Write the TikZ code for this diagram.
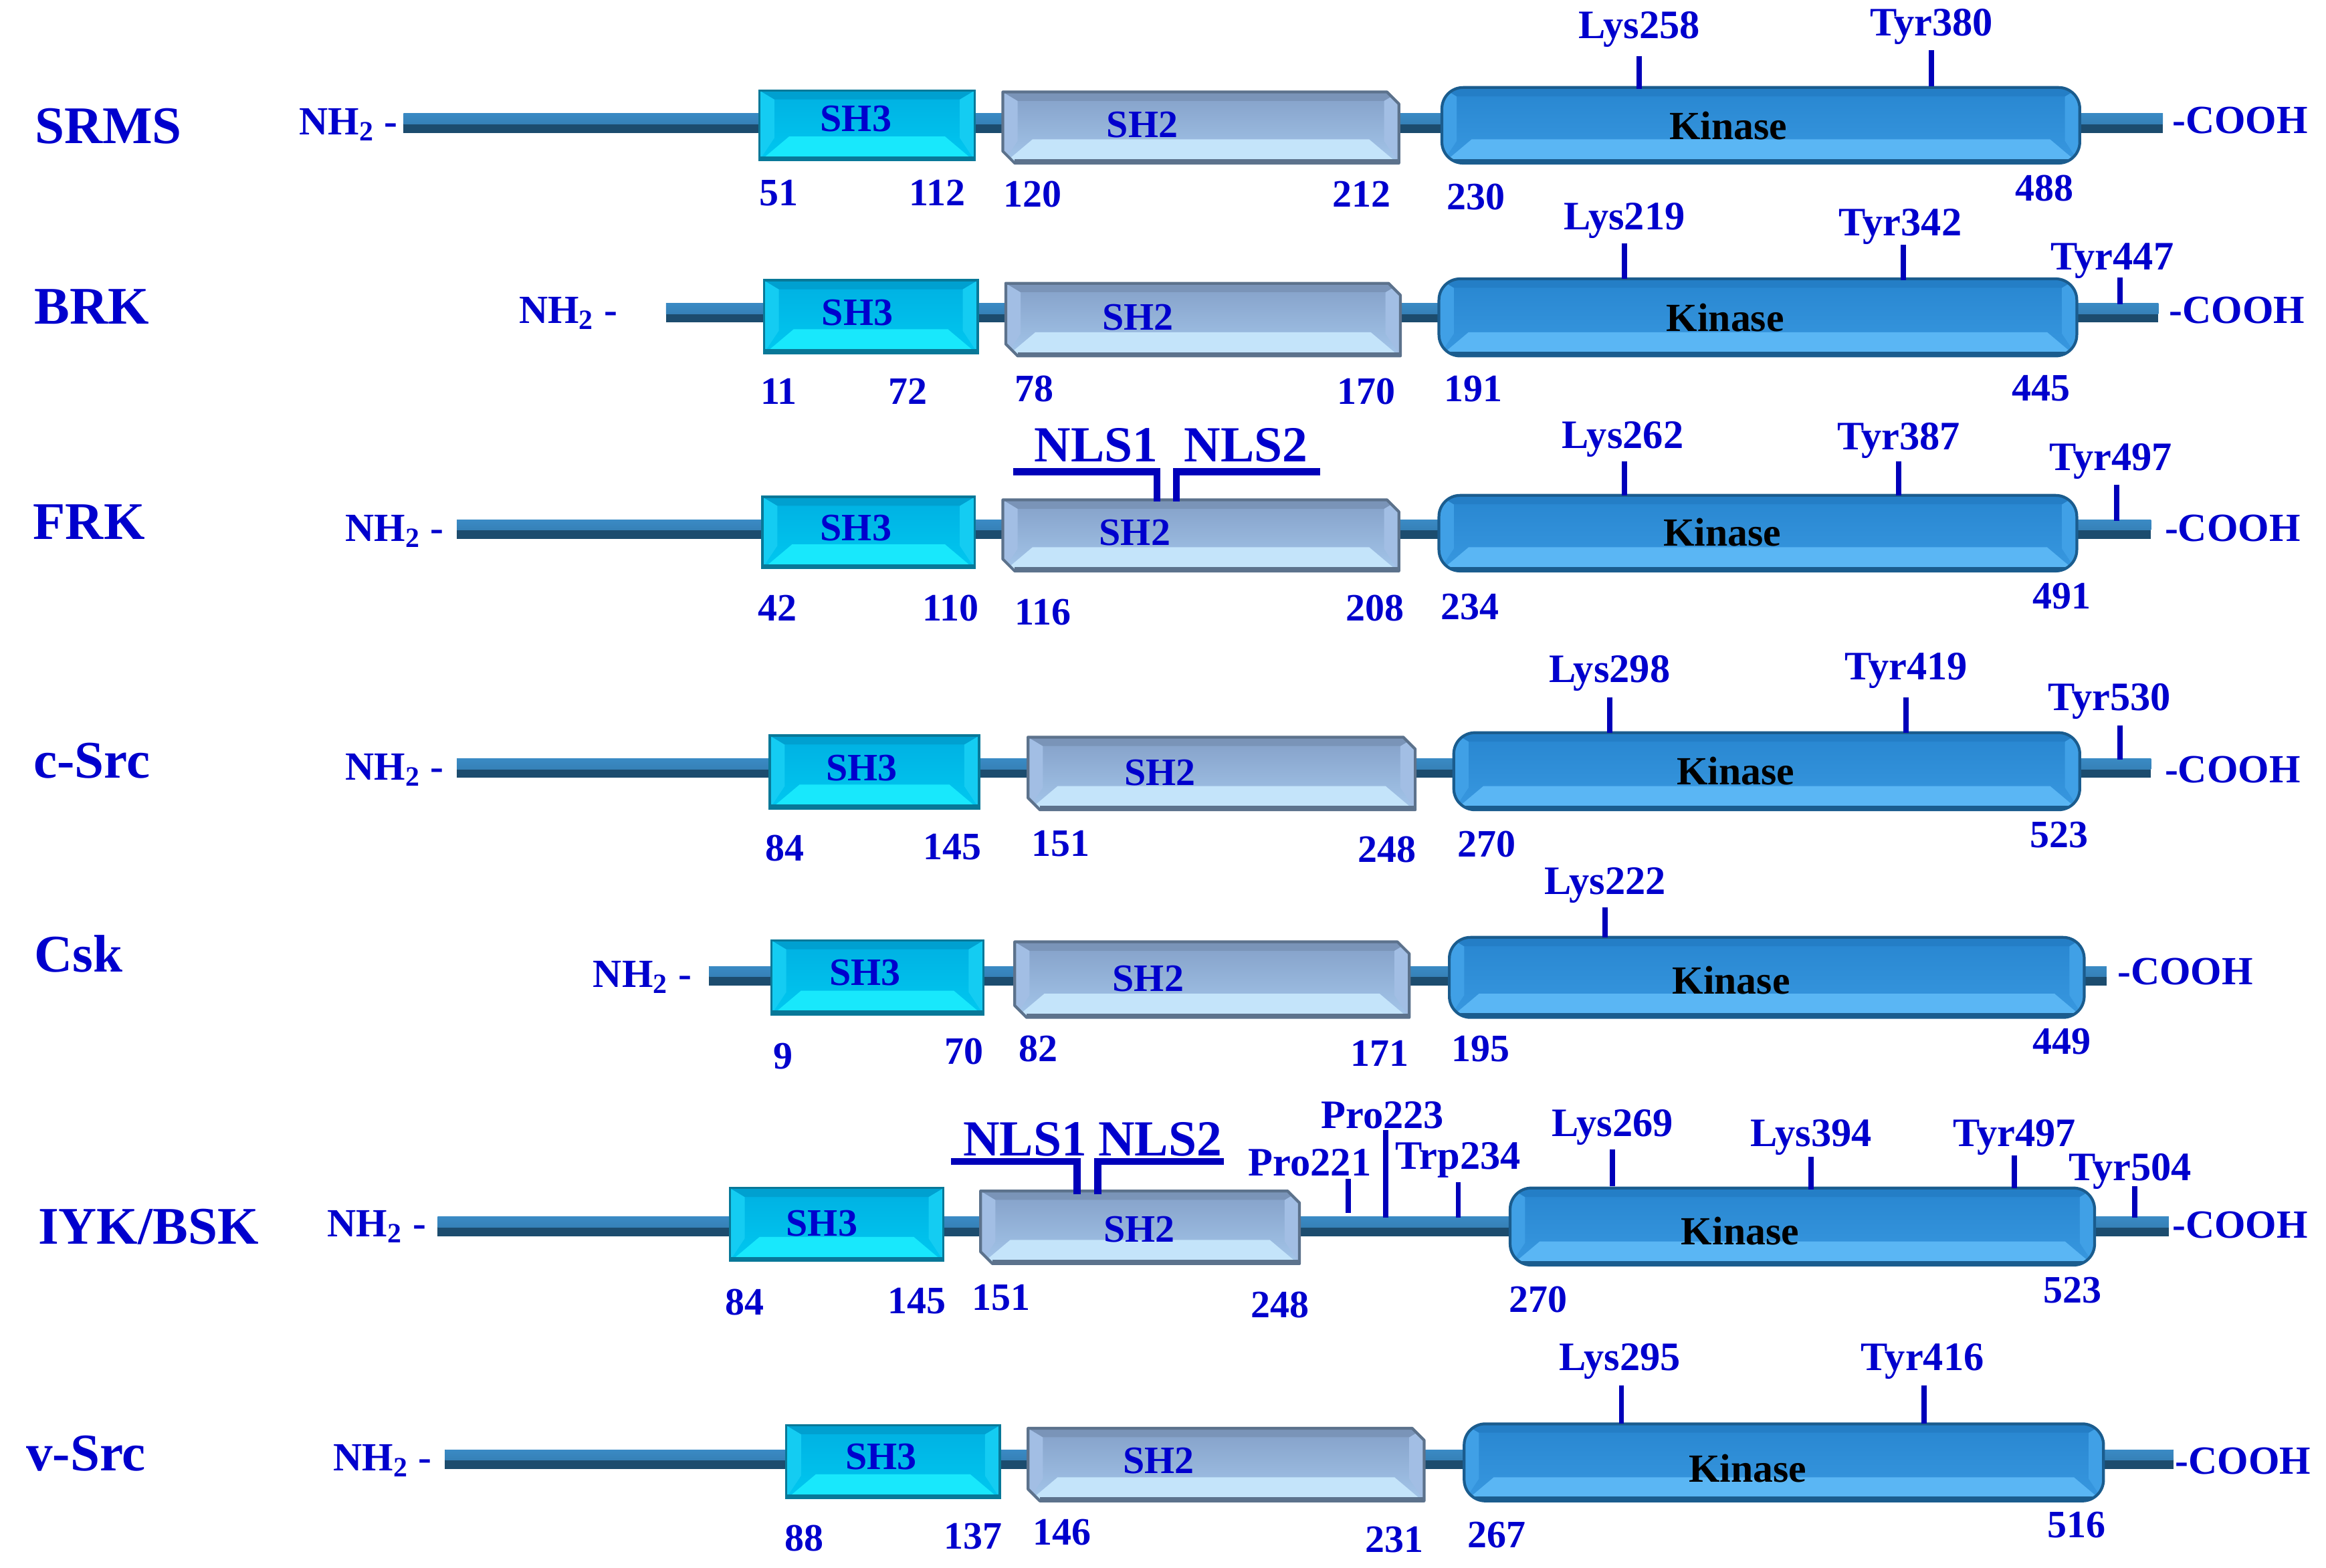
\documentclass[tikz,border=0pt]{standalone}
\usepackage{fontspec}
\setmainfont{Liberation Serif}
\usetikzlibrary{calc}
\definecolor{lblue}{RGB}{0,0,205}
\definecolor{tickc}{RGB}{0,0,185}
\definecolor{bbtop}{RGB}{58,138,196}
\definecolor{bbbot}{RGB}{28,76,110}
\definecolor{shAmidA}{RGB}{0,176,226}
\definecolor{shAmidB}{RGB}{0,200,240}
\definecolor{shAtop}{RGB}{0,160,208}
\definecolor{shAbot}{RGB}{24,232,252}
\definecolor{shAside}{RGB}{20,204,242}
\definecolor{shAedge}{RGB}{8,120,152}
\definecolor{shBmidA}{RGB}{132,160,200}
\definecolor{shBmidB}{RGB}{164,198,234}
\definecolor{shBtop}{RGB}{122,148,184}
\definecolor{shBbot}{RGB}{196,228,250}
\definecolor{shBside}{RGB}{162,190,228}
\definecolor{shBedge}{RGB}{92,114,140}
\definecolor{kmidA}{RGB}{40,134,208}
\definecolor{kmidB}{RGB}{56,152,224}
\definecolor{ktop}{RGB}{36,126,198}
\definecolor{kbot}{RGB}{90,182,244}
\definecolor{kside}{RGB}{64,160,230}
\definecolor{kedge}{RGB}{26,92,142}
\tikzset{
  pname/.style={font=\fontsize{22.5}{26}\selectfont\bfseries, text=lblue},
  num/.style={font=\fontsize{16.5}{19}\selectfont\bfseries, text=lblue},
  res/.style={font=\fontsize{17.2}{20}\selectfont\bfseries, text=lblue},
  dlab/.style={font=\fontsize{16.5}{19}\selectfont\bfseries, text=lblue},
  klab/.style={font=\fontsize{17}{20}\selectfont\bfseries, text=black},
  term/.style={font=\fontsize{17}{20}\selectfont\bfseries, text=lblue},
  nls/.style={font=\fontsize{21.5}{25}\selectfont\bfseries, text=lblue},
  tickl/.style={draw=tickc, line width=2.2pt},
  nlsl/.style={draw=tickc, line width=3pt},
}
% backbone: y, x1, x2
\newcommand\bbline[3]{%
  \fill[bbbot] (#2,#1-6.5) rectangle (#3,#1+6.5);
  \shade[top color=bbtop, bottom color=bbtop!85!bbbot] (#2,#1-6.5) rectangle (#3,#1+0.5);}
% panels: x1 x2 y1 y2 topcol botcol sidecol
\newcommand\bevpanels[7]{%
  \fill[#7] (#1,#3) -- (#1+10,#3+6) -- (#1+10,#4-15) -- (#1,#4) -- cycle;
  \fill[#7] (#2,#3) -- (#2-10,#3+6) -- (#2-10,#4-15) -- (#2,#4) -- cycle;
  \fill[#5] (#1,#3) -- (#2,#3) -- (#2-10,#3+6) -- (#1+10,#3+6) -- cycle;
  \fill[#6] (#1+1,#4) -- (#2-1,#4) -- (#2-20,#4-16) -- (#1+20,#4-16) -- cycle;}
% SH3 box: x1 x2 y1 y2
\newcommand\boxSHthree[4]{%
  \begin{scope}
    \clip (#1,#3) rectangle (#2,#4);
    \shade[top color=shAmidA, bottom color=shAmidB] (#1,#3) rectangle (#2,#4);
    \bevpanels{#1}{#2}{#3}{#4}{shAtop}{shAbot}{shAside}
  \end{scope}
  \draw[shAedge, line width=1pt] (#1,#3) rectangle (#2,#4);
  \draw[shAedge, line width=2pt] (#1,#4-1) -- (#2,#4-1);}
% SH2 box: chamfered
\newcommand\boxSHtwo[4]{%
  \begin{scope}
    \clip (#1,#3) -- (#2-8,#3) -- (#2,#3+8) -- (#2,#4) -- (#1+8,#4) -- (#1,#4-8) -- cycle;
    \shade[top color=shBmidA, bottom color=shBmidB] (#1,#3) rectangle (#2,#4);
    \bevpanels{#1}{#2}{#3}{#4}{shBtop}{shBbot}{shBside}
  \end{scope}
  \draw[shBedge, line width=1.2pt, line join=round] (#1,#3) -- (#2-8,#3) -- (#2,#3+8) -- (#2,#4) -- (#1+8,#4) -- (#1,#4-8) -- cycle;
  \draw[shBedge, line width=2pt] (#1+8,#4-1) -- (#2,#4-1);}
% Kinase box: rounded
\newcommand\boxKIN[4]{%
  \begin{scope}
    \clip[rounded corners=9] (#1,#3) rectangle (#2,#4);
    \shade[top color=kmidA, bottom color=kmidB] (#1,#3) rectangle (#2,#4);
    \bevpanels{#1}{#2}{#3}{#4}{ktop}{kbot}{kside}
  \end{scope}
  \draw[kedge, line width=1.2pt, rounded corners=9] (#1,#3) rectangle (#2,#4);
  \begin{scope}
    \clip[rounded corners=9] (#1,#3) rectangle (#2,#4);
    \draw[kedge, line width=2.4pt] (#1,#4-1) -- (#2,#4-1);
  \end{scope}}
\begin{document}
\begin{tikzpicture}[x=0.02218cm, y=-0.02218cm]
\useasboundingbox (0,0) rectangle (1568,1057);
\fill[white] (0,0) rectangle (1568,1057);

% ---------------- Row 1: SRMS ----------------
\bbline{83}{272}{1458}
\boxSHthree{512}{657}{61}{108}
\boxSHtwo{676}{943}{62}{110}
\boxKIN{972}{1402}{59}{110}
\node[pname] (n1) at (73,85) {SRMS};
\node[term] (nh1) at (235,84) {NH\textsubscript{2} -};
\node[term] (c1) at (1510,81) {-COOH};
\node[dlab] (a1) at (577,80) {SH3};
\node[dlab] (b1) at (770,84) {SH2};
\node[klab] (k1) at (1165,85) {Kinase};
\node[num] at (525,130) {51};
\node[num] at (632,130) {112};
\node[num] at (696,131) {120};
\node[num] at (918,131) {212};
\node[num] at (995,133) {230};
\node[num] at (1378,127) {488};
\node[res] (r1a) at (1105,20) {Lys258};
\node[res] (r1b) at (1302,18) {Tyr380};
\draw[tickl] (1105,38) -- (1105,60);
\draw[tickl] (1302,34) -- (1302,58);

% ---------------- Row 2: BRK ----------------
\bbline{211}{449}{1455}
\boxSHthree{515}{659}{189}{238}
\boxSHtwo{678}{944}{191}{240}
\boxKIN{970}{1400}{188}{240}
\node[pname] (n2) at (62,207) {BRK};
\node[term] (nh2) at (383,211) {NH\textsubscript{2} -};
\node[term] (c2) at (1508,209) {-COOH};
\node[dlab] (a2) at (578,211) {SH3};
\node[dlab] (b2) at (767,214) {SH2};
\node[klab] (k2) at (1163,214) {Kinase};
\node[num] at (525,264) {11};
\node[num] at (612,264) {72};
\node[num] at (697,262) {78};
\node[num] at (921,264) {170};
\node[num] at (993,262) {191};
\node[num] at (1376,262) {445};
\node[res] (r2a) at (1095,149) {Lys219};
\node[res] (r2b) at (1281,153) {Tyr342};
\node[res] (r2c) at (1424,176) {Tyr447};
\draw[tickl] (1095,164) -- (1095,188);
\draw[tickl] (1283,165) -- (1283,189);
\draw[tickl] (1429,187) -- (1429,205);

% ---------------- Row 3: FRK ----------------
\bbline{357}{308}{1450}
\boxSHthree{514}{657}{335}{383}
\boxSHtwo{676}{943}{337}{385}
\boxKIN{970}{1400}{334}{385}
\node[pname] (n3) at (60,352) {FRK};
\node[term] (nh3) at (266,358) {NH\textsubscript{2} -};
\node[term] (c3) at (1505,356) {-COOH};
\node[dlab] (a3) at (577,356) {SH3};
\node[dlab] (b3) at (765,359) {SH2};
\node[klab] (k3) at (1161,359) {Kinase};
\node[num] at (524,410) {42};
\node[num] at (641,410) {110};
\node[num] at (703,413) {116};
\node[num] at (927,410) {208};
\node[num] at (991,409) {234};
\node[num] at (1390,402) {491};
\node[nls] (s31) at (739,300) {NLS1};
\node[nls] (s32) at (840,300) {NLS2};
\draw[nlsl] (683,318) -- (780,318) -- (780,338);
\draw[nlsl] (793,338) -- (793,318) -- (890,318);
\node[res] (r3a) at (1094,296) {Lys262};
\node[res] (r3b) at (1280,297) {Tyr387};
\node[res] (r3c) at (1423,311) {Tyr497};
\draw[tickl] (1095,311) -- (1095,334);
\draw[tickl] (1280,311) -- (1280,334);
\draw[tickl] (1427,327) -- (1427,351);

% ---------------- Row 4: c-Src ----------------
\bbline{518}{308}{1450}
\boxSHthree{519}{660}{496}{545}
\boxSHtwo{693}{954}{497}{546}
\boxKIN{980}{1402}{494}{546}
\node[pname] (n4) at (62,513) {c-Src};
\node[term] (nh4) at (266,519) {NH\textsubscript{2} -};
\node[term] (c4) at (1505,519) {-COOH};
\node[dlab] (a4) at (581,518) {SH3};
\node[dlab] (b4) at (782,521) {SH2};
\node[klab] (k4) at (1170,520) {Kinase};
\node[num] at (529,572) {84};
\node[num] at (642,571) {145};
\node[num] at (715,569) {151};
\node[num] at (935,573) {248};
\node[num] at (1002,569) {270};
\node[num] at (1388,563) {523};
\node[res] (r4a) at (1085,454) {Lys298};
\node[res] (r4b) at (1285,452) {Tyr419};
\node[res] (r4c) at (1422,473) {Tyr530};
\draw[tickl] (1085,470) -- (1085,494);
\draw[tickl] (1285,470) -- (1285,494);
\draw[tickl] (1429,489) -- (1429,512);

% ---------------- Row 5: Csk ----------------
\bbline{658}{478}{1420}
\boxSHthree{520}{663}{634}{684}
\boxSHtwo{684}{950}{635}{686}
\boxKIN{977}{1405}{632}{686}
\node[pname] (n5) at (53,643) {Csk};
\node[term] (nh5) at (433,659) {NH\textsubscript{2} -};
\node[term] (c5) at (1473,655) {-COOH};
\node[dlab] (a5) at (583,656) {SH3};
\node[dlab] (b5) at (774,660) {SH2};
\node[klab] (k5) at (1167,661) {Kinase};
\node[num] at (528,712) {9};
\node[num] at (650,709) {70};
\node[num] at (700,707) {82};
\node[num] at (930,710) {171};
\node[num] at (998,707) {195};
\node[num] at (1390,702) {449};
\node[res] (r5a) at (1082,597) {Lys222};
\draw[tickl] (1082,612) -- (1082,632);

% ---------------- Row 6: IYK/BSK ----------------
\bbline{827}{295}{1462}
\boxSHthree{492}{636}{801}{850}
\boxSHtwo{661}{876}{803}{852}
\boxKIN{1018}{1412}{801}{853}
\node[pname] (n6) at (100,827) {IYK/BSK};
\node[term] (nh6) at (254,827) {NH\textsubscript{2} -};
\node[term] (c6) at (1510,826) {-COOH};
\node[dlab] (a6) at (554,825) {SH3};
\node[dlab] (b6) at (768,829) {SH2};
\node[klab] (k6) at (1173,830) {Kinase};
\node[num] at (502,878) {84};
\node[num] at (618,877) {145};
\node[num] at (675,875) {151};
\node[num] at (863,880) {248};
\node[num] at (1037,876) {270};
\node[num] at (1397,870) {523};
\node[nls] (s61) at (691,768) {NLS1};
\node[nls] (s62) at (782,768) {NLS2};
\draw[nlsl] (641,783) -- (726,783) -- (726,805);
\draw[nlsl] (740,805) -- (740,783) -- (825,783);
\node[res] (r6p) at (932,752) {Pro223};
\node[res] (r6q) at (883,784) {Pro221};
\node[res] (r6w) at (983,782) {Trp234};
\draw[tickl] (934,762) -- (934,821);
\draw[tickl] (909,795) -- (909,818);
\draw[tickl] (983,797) -- (983,821);
\node[res] (r6a) at (1087,760) {Lys269};
\node[res] (r6b) at (1221,767) {Lys394};
\node[res] (r6c) at (1358,767) {Tyr497};
\node[res] (r6d) at (1436,790) {Tyr504};
\draw[tickl] (1087,775) -- (1087,800);
\draw[tickl] (1221,780) -- (1221,802);
\draw[tickl] (1358,779) -- (1358,801);
\draw[tickl] (1439,800) -- (1439,821);

% ---------------- Row 7: v-Src ----------------
\bbline{984}{300}{1465}
\boxSHthree{530}{674}{961}{1010}
\boxSHtwo{693}{960}{963}{1012}
\boxKIN{987}{1418}{960}{1012}
\node[pname] (n7) at (58,980) {v-Src};
\node[term] (nh7) at (258,985) {NH\textsubscript{2} -};
\node[term] (c7) at (1512,985) {-COOH};
\node[dlab] (a7) at (594,982) {SH3};
\node[dlab] (b7) at (781,985) {SH2};
\node[klab] (k7) at (1178,990) {Kinase};
\node[num] at (542,1037) {88};
\node[num] at (656,1036) {137};
\node[num] at (716,1033) {146};
\node[num] at (940,1038) {231};
\node[num] at (1009,1035) {267};
\node[num] at (1400,1028) {516};
\node[res] (r7a) at (1092,918) {Lys295};
\node[res] (r7b) at (1296,918) {Tyr416};
\draw[tickl] (1093,934) -- (1093,960);
\draw[tickl] (1297,934) -- (1297,960);
\end{tikzpicture}
\end{document}
